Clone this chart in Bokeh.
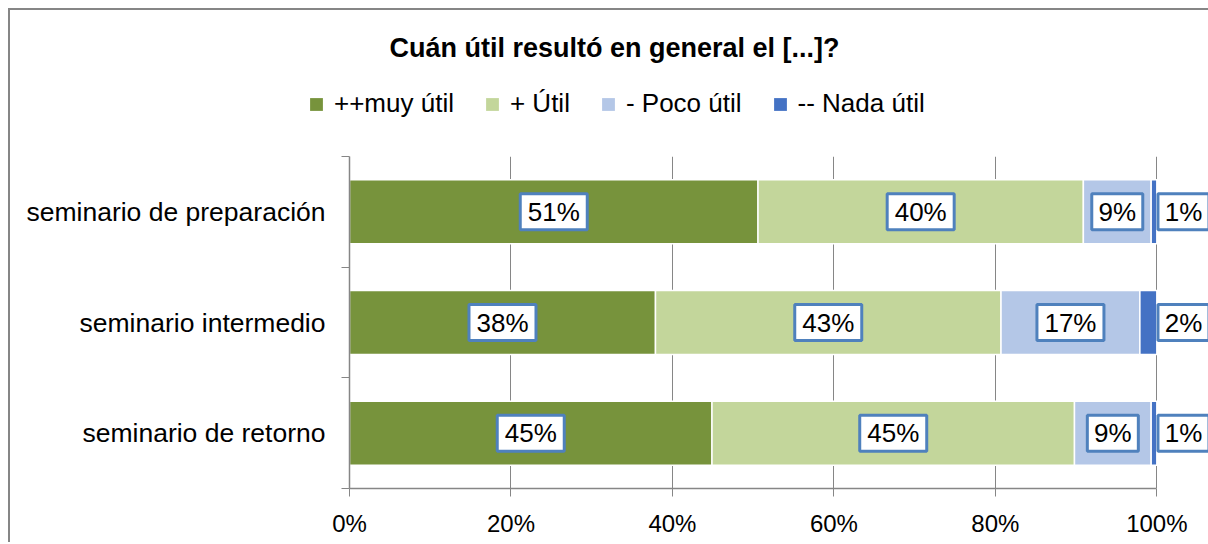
from bokeh.plotting import figure
from bokeh.layouts import column
from bokeh.models import Range1d, FixedTicker, Legend, LegendItem, Label
from bokeh.embed import file_html
from bokeh.resources import INLINE
from bokeh.core.properties import value

title_text = "Cuán útil resultó en general el [...]?"
categories = ["seminario de preparación", "seminario intermedio", "seminario de retorno"]
series_names = ["++muy útil", "+ Útil", "- Poco útil", "-- Nada útil"]
colors = ["#77933C", "#C3D69B", "#B4C7E7", "#4472C4"]

muy_util = [50.6, 37.9, 44.9]
util = [40.3, 42.8, 44.9]
poco_util = [8.4, 17.2, 9.5]
nada_util = [0.7, 2.1, 0.7]

labels_muy = ["51%", "38%", "45%"]
labels_util = ["40%", "43%", "45%"]
labels_poco = ["9%", "17%", "9%"]
labels_nada = ["1%", "2%", "1%"]

x_ticks = [0, 20, 40, 60, 80, 100]
x_tick_labels = ["0%", "20%", "40%", "60%", "80%", "100%"]

FONT = "Liberation Sans"
GREY = "#868686"
BOX_BLUE = "#4F81BD"

W = 1198
TOP_H = 140
MAIN_H = 392
X_MAX = 106.4

n = len(categories)
ys = [n - 1 - i + 0.5 for i in range(n)]
series_values = [muy_util, util, poco_util, nada_util]
series_labels = [labels_muy, labels_util, labels_poco, labels_nada]

# stacked extents
lefts_all, rights_all = [], []
acc = [0.0] * n
for vals in series_values:
    r = [a + v for a, v in zip(acc, vals)]
    lefts_all.append(acc)
    rights_all.append(r)
    acc = r

# ---------- header figure: title + legend ----------
top = figure(width=W, height=TOP_H, output_backend="svg", toolbar_location=None,
             x_range=Range1d(0, X_MAX), y_range=Range1d(0, n),
             x_axis_type=None, y_axis_type=None, frame_align=False,
             min_border_left=0, min_border_right=0, min_border_top=0, min_border_bottom=0)
top.outline_line_color = None
top.grid.grid_line_color = None

legend_renderers = []
for col, l, r in zip(colors, lefts_all, rights_all):
    rr = top.hbar(y=ys, left=l, right=r, height=0.578, fill_color=col,
                  line_color=None, visible=False)
    legend_renderers.append(rr)

legend = Legend(items=[LegendItem(label=s, renderers=[r]) for s, r in zip(series_names, legend_renderers)],
                orientation="horizontal", location=(298, 31),
                glyph_width=16, glyph_height=16, label_standoff=10, spacing=30,
                padding=0, margin=0, border_line_color=None,
                background_fill_alpha=0, label_text_font_size="26px",
                label_height=26, label_text_font=FONT, label_text_color="black",
                inactive_fill_alpha=0)
top.add_layout(legend)

title = Label(x=604, y=103, x_units="screen", y_units="screen", text=title_text,
              text_align="center", text_baseline="middle", text_font_size="27px",
              text_font_style="bold", text_font=FONT, text_color="black")
top.add_layout(title)

# ---------- main chart ----------
p = figure(width=W, height=MAIN_H, output_backend="svg", toolbar_location=None,
           x_range=Range1d(0, X_MAX), y_range=Range1d(0, n), frame_align=False,
           min_border_left=339, min_border_right=0, min_border_top=6,
           min_border_bottom=54)
p.outline_line_color = None

p.xaxis.ticker = FixedTicker(ticks=x_ticks)
p.xaxis.major_label_overrides = {t: l for t, l in zip(x_ticks, x_tick_labels)}
p.xaxis.bounds = (0, 100)
p.xaxis.axis_line_color = GREY
p.xaxis.axis_line_width = 1.5
p.xaxis.major_tick_line_color = GREY
p.xaxis.major_tick_out = 8
p.xaxis.major_tick_in = 0
p.xaxis.minor_tick_line_color = None
p.xaxis.major_label_standoff = 13
p.xaxis.major_label_text_font_size = "24px"
p.xaxis.major_label_text_font = FONT
p.xaxis.major_label_text_color = "black"

p.yaxis.ticker = FixedTicker(ticks=ys, minor_ticks=list(range(n + 1)))
p.yaxis.major_label_overrides = {y: c for y, c in zip(ys, categories)}
p.yaxis.axis_line_color = GREY
p.yaxis.axis_line_width = 1.5
p.yaxis.major_tick_line_color = None
p.yaxis.major_tick_out = 0
p.yaxis.major_tick_in = 0
p.yaxis.minor_tick_line_color = GREY
p.yaxis.minor_tick_out = 8
p.yaxis.minor_tick_in = 0
p.yaxis.major_label_standoff = 16
p.yaxis.major_label_text_font_size = "26.5px"
p.yaxis.major_label_text_font = FONT
p.yaxis.major_label_text_color = "black"

p.ygrid.grid_line_color = None
p.xgrid.grid_line_color = GREY
p.xgrid.grid_line_width = 1

for vals, col, labs, l, r in zip(series_values, colors, series_labels, lefts_all, rights_all):
    p.hbar(y=ys, left=l, right=r, height=0.578, fill_color=col,
           line_color="white", line_width=1.5)
    lx = []
    for a, b, v in zip(l, r, vals):
        if v < 3:
            lx.append(b + 3.3)
        else:
            lx.append((a + b) / 2)
    widths = [16 * len(s) + 19 for s in labs]
    p.rect(x=lx, y=ys, width=widths, height=36, width_units="screen",
           height_units="screen", fill_color="white", line_color=BOX_BLUE,
           line_width=3)
    p.text(x=lx, y=ys, text=labs, text_align="center", text_baseline="middle",
           text_font_size="26px", text_font=value(FONT), text_color="black")

layout = column(top, p, spacing=0,
                styles={"margin-left": "8px", "margin-top": "8px",
                        "border-left": "2px solid #868686",
                        "border-top": "2px solid #868686"})

open("out.html", "w").write(file_html(layout, INLINE))
